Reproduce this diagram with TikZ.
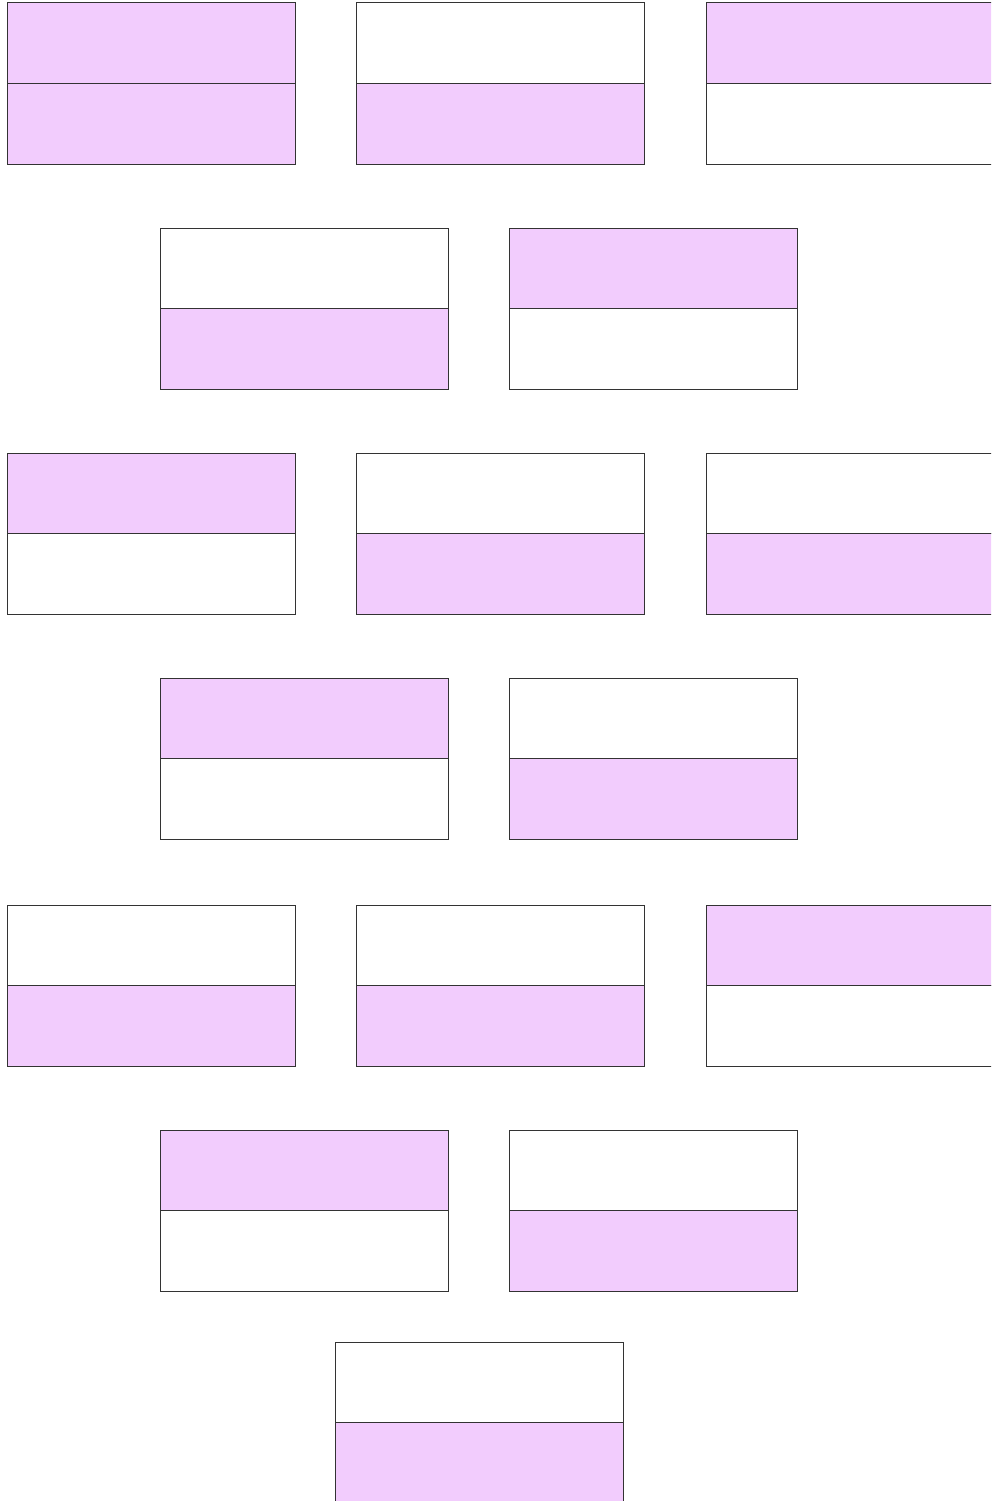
\documentclass[tikz,border=0pt]{standalone}
\definecolor{pinkfill}{HTML}{F2CCFD}
\definecolor{edge}{HTML}{333333}
\tikzset{
  half/.style={draw=edge, line width=1pt, minimum width=288pt, minimum height=80.5pt, inner sep=0pt, outer sep=0pt, anchor=north west},
  P/.style={half, fill=pinkfill},
  W/.style={half, fill=white}
}
\begin{document}
\begin{tikzpicture}[x=1pt,y=-1pt]
\useasboundingbox (0,0) rectangle (991,1501);
\clip (0,0) rectangle (991,1501);
\foreach \n/\x/\y/\t/\b in {
  a/7/3/P/P, b/356/3/W/P, c/706/3/P/W,
  d/160/228/W/P, e/509/228/P/W,
  f/7/453/P/W, g/356/453/W/P, h/706/453/W/P,
  i/160/678/P/W, j/509/678/W/P,
  k/7/905/W/P, l/356/905/W/P, m/706/905/P/W,
  n/160/1130/P/W, o/509/1130/W/P,
  p/335/1342/W/P}{
  \node[\t] (\n top) at (\x,\y) {};
  \node[\b] (\n bot) at (\x,\y+80.5) {};
}
\end{tikzpicture}
\end{document}
